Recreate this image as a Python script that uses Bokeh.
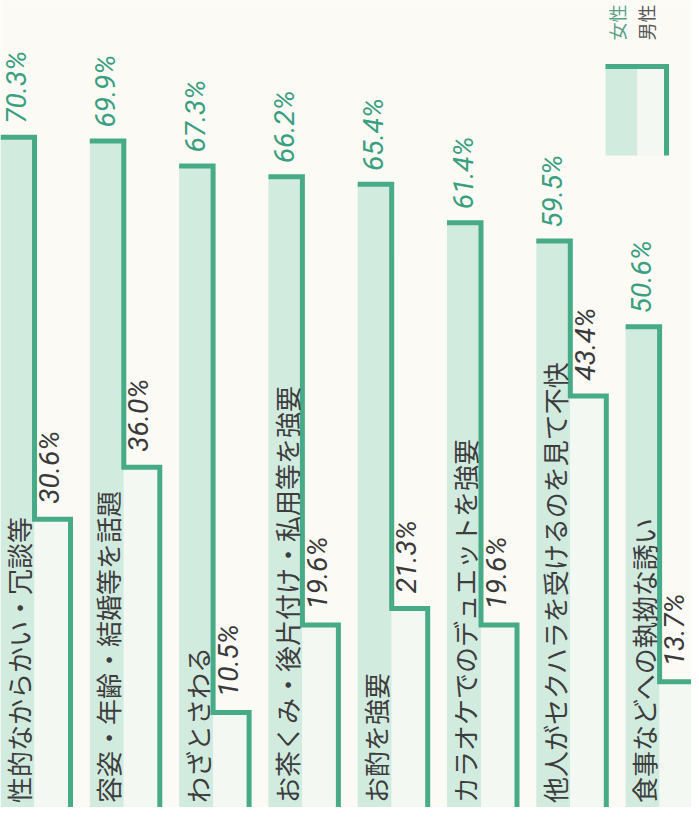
import math
from bokeh.plotting import figure
from bokeh.models import Range1d, ColumnDataSource
from bokeh.core.properties import value
from bokeh.embed import file_html
from bokeh.resources import INLINE

# ---- data ----
categories = ["性的なからかい・冗談等", "容姿・年齢・結婚等を話題", "わざとさわる",
              "お茶くみ・後片付け・私用等を強要", "お酌を強要",
              "カラオケでのデュエットを強要", "他人がセクハラを受けるのを見て不快",
              "食事などへの執拗な誘い"]
women = [70.3, 69.9, 67.3, 66.2, 65.4, 61.4, 59.5, 50.6]
men = [30.6, 36.0, 10.5, 19.6, 21.3, 19.6, 43.4, 13.7]
legend_labels = ["女性", "男性"]

# ---- layout constants ----
PITCH = 89.3      # px per category
PX_PER_PCT = 9.62  # px per percent
X0 = 42            # image px of first women/men boundary
Y0 = 821           # image px of 0 %
W_W = 34 / PITCH   # women bar width (data units)
W_M = 36 / PITCH   # men bar width
FIG_W = 691
FIG_H = 807

def xd(px):
    return (px - X0) / PITCH

def yd(py):
    return (Y0 - py) / PX_PER_PCT

LINE = "#48ab87"
WFILL = "#d2ebdf"
MFILL = "#f3f8f2"
BG = "#fbfaf5"
WTEXT = "#3a9f7f"
MTEXT = "#3a3a3a"
CTEXT = "#3d3d3d"

p = figure(width=FIG_W, height=FIG_H, output_backend="svg", toolbar_location=None,
           x_range=Range1d(xd(8), xd(8 + FIG_W)), y_range=Range1d(yd(8 + FIG_H), yd(8)),
           min_border=0)
p.axis.visible = False
p.grid.visible = False
p.outline_line_color = None
p.background_fill_color = BG
p.border_fill_color = BG

idx = list(range(len(categories)))
src = ColumnDataSource(dict(
    i=idx, women=women, men=men, cat=categories,
    wl=[i - W_W for i in idx], mr=[i + W_M for i in idx],
    wlab=[f"{v:.1f}%" for v in women], mlab=[f"{v:.1f}%" for v in men],
    wlx=[i - 0.2 for i in idx], mlx=[i + 0.17 for i in idx],
    wly=[v + 1.4 for v in women], mly=[v + 1.6 for v in men],
    clx=[i - 0.18 for i in idx], cly=[1.1 for _ in idx],
))

p.quad(left="wl", right="i", bottom=0, top="women", source=src,
       fill_color=WFILL, line_color=None)
p.quad(left="i", right="mr", bottom=0, top="men", source=src,
       fill_color=MFILL, line_color=None)

xs = [[i - W_W, i, i, i + W_M, i + W_M] for i in idx]
ys = [[w, w, m, m, 0] for w, m in zip(women, men)]
p.multi_line(xs=xs, ys=ys, line_color=LINE, line_width=5, line_join="miter")

p.text(x="clx", y="cly", text="cat", source=src, angle=math.pi / 2,
       text_align="left", text_baseline="middle", text_color=CTEXT,
       text_font=value("Noto Sans CJK JP"), text_font_size="26px")
p.text(x="wlx", y="wly", text="wlab", source=src, angle=math.pi / 2,
       text_align="left", text_baseline="middle", text_color=WTEXT,
       text_font=value("Roboto"), text_font_style="italic", text_font_size="28px")
p.text(x="mlx", y="mly", text="mlab", source=src, angle=math.pi / 2,
       text_align="left", text_baseline="middle", text_color=MTEXT,
       text_font=value("Roboto"), text_font_style="italic", text_font_size="28px")

# legend (drawn)
p.quad(left=[xd(613)], right=[xd(645)], bottom=[yd(163)], top=[yd(74)],
       fill_color=WFILL, line_color=None)
p.quad(left=[xd(645)], right=[xd(674)], bottom=[yd(163)], top=[yd(74)],
       fill_color=MFILL, line_color=None)
p.line(x=[xd(613), xd(674), xd(674)], y=[yd(74), yd(74), yd(163)],
       line_color=LINE, line_width=5, line_join="miter")
p.text(x=[xd(624), xd(653)], y=[yd(48), yd(48)], text=legend_labels,
       angle=math.pi / 2, text_align="left", text_baseline="middle",
       text_color=["#5a9f88", "#555555"], text_font=value("Noto Sans CJK JP"),
       text_font_size="18px")

open("out.html", "w").write(file_html(p, INLINE))
